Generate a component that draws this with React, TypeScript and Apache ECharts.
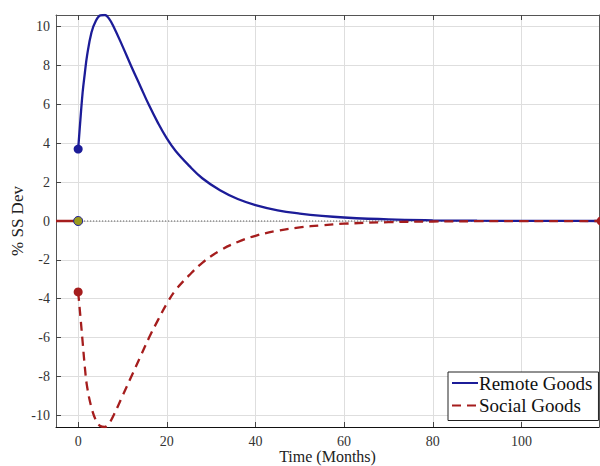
import React, { useEffect, useRef } from "react";
import * as echarts from "echarts";

const months = [0, 0.5, 1, 1.5, 2, 3, 4, 5, 6, 7, 8, 10, 12, 14, 16, 18, 20, 22, 25, 28, 32, 36, 40, 45, 50, 55, 60, 70, 80, 90, 100, 110, 118];
const remoteGoods = [3.7, 5.2, 6.6, 7.6, 8.5, 9.7, 10.3, 10.58, 10.6, 10.4, 10.0, 9.0, 7.95, 6.95, 5.95, 5.05, 4.25, 3.6, 2.85, 2.2, 1.58, 1.13, 0.82, 0.55, 0.38, 0.26, 0.18, 0.08, 0.035, 0.015, 0.006, 0.003, 0.001];
const socialGoods = [-3.65, -4.9, -6.2, -7.5, -8.5, -9.6, -10.25, -10.55, -10.6, -10.4, -10.0, -9.0, -8.0, -7.0, -6.0, -5.1, -4.25, -3.55, -2.8, -2.15, -1.52, -1.08, -0.76, -0.5, -0.33, -0.22, -0.14, -0.06, -0.025, -0.01, -0.004, -0.002, -0.001];
const preShockTime = [-5, 0];
const preShockValue = [0, 0];
const xTicks = [0, 20, 40, 60, 80, 100];
const yTicks = [-10, -8, -6, -4, -2, 0, 2, 4, 6, 8, 10];
const xRange = [-5, 117.5];
const yRange = [-10.6, 10.6];

const BLUE = "#1c1c98";
const RED = "#a51d1d";
const OLIVE = "#9a9a1e";
const FONT = "Liberation Serif";

export default function App() {
  const ref = useRef<HTMLDivElement>(null);
  useEffect(() => {
    if (!ref.current) return;
    const chart = echarts.init(ref.current, null, { renderer: "svg" });
    const pairs = (xs: number[], ys: number[]) => xs.map((x, i) => [x, ys[i]]);
    const tickStyle = { color: "#444", width: 1 };
    chart.setOption({
      animation: false,
      backgroundColor: "#fff",
      grid: { left: 56, right: 1, top: 15, bottom: 39, containLabel: false, outerBoundsMode: "none" },
      legend: {
        data: ["Remote Goods", "Social Goods"],
        orient: "vertical",
        left: 448,
        top: 372,
        padding: [1, 6, 5, 3],
        itemGap: 2.5,
        itemWidth: 26,
        itemHeight: 10,
        itemStyle: { opacity: 0 },
        borderColor: "#222",
        borderWidth: 1,
        borderRadius: 0,
        backgroundColor: "#fff",
        textStyle: { fontFamily: FONT, fontSize: 19, color: "#111", lineHeight: 20, padding: [0, 0, 0, -4] },
      },
      xAxis: [
        {
          type: "value",
          min: xRange[0],
          max: xRange[1],
          name: "Time (Months)",
          nameLocation: "middle",
          nameGap: 21,
          nameMoveOverlap: false,
          nameTextStyle: { fontFamily: FONT, fontSize: 16, color: "#222", lineHeight: 16 },
          axisLine: { show: true, onZero: false, lineStyle: { color: "#111", width: 1 } },
          axisTick: { show: true, inside: true, length: 5, customValues: xTicks, lineStyle: tickStyle },
          axisLabel: { customValues: xTicks, fontFamily: FONT, fontSize: 14, color: "#333", margin: 8, lineHeight: 13 },
          splitLine: { show: true, lineStyle: { color: "#dedede", width: 1 } },
        },
        {
          type: "value",
          position: "top",
          min: xRange[0],
          max: xRange[1],
          axisLine: { show: true, onZero: false, lineStyle: { color: "#555", width: 1 } },
          axisTick: { show: true, inside: true, length: 5, customValues: xTicks, lineStyle: tickStyle },
          axisLabel: { show: false },
          splitLine: { show: false },
        },
      ],
      yAxis: [
        {
          type: "value",
          min: yRange[0],
          max: yRange[1],
          name: "% SS Dev",
          nameLocation: "middle",
          nameGap: 30,
          nameMoveOverlap: false,
          nameTextStyle: { fontFamily: FONT, fontSize: 17, color: "#222" },
          axisLine: { show: true, onZero: false, lineStyle: { color: "#555", width: 1 } },
          axisTick: { show: true, inside: true, length: 5, customValues: yTicks, lineStyle: tickStyle },
          axisLabel: { customValues: yTicks, fontFamily: FONT, fontSize: 14, color: "#333", margin: 6 },
          splitLine: { show: true, lineStyle: { color: "#dedede", width: 1 } },
        },
        {
          type: "value",
          position: "right",
          min: yRange[0],
          max: yRange[1],
          axisLine: { show: true, onZero: false, lineStyle: { color: "#555", width: 1 } },
          axisTick: { show: false },
          axisLabel: { show: false },
          splitLine: { show: false },
        },
      ],
      series: [
        {
          name: "zero",
          type: "line",
          data: pairs([0, xRange[1]], [0, 0]),
          symbol: "none",
          silent: true,
          lineStyle: { color: "#444", width: 1, type: [1, 2] },
          z: 1,
        },
        {
          name: "Remote Goods",
          type: "line",
          data: pairs(months, remoteGoods),
          symbol: "none",
          smooth: 0.4,
          lineStyle: { color: BLUE, width: 2.3 },
          itemStyle: { color: BLUE },
          z: 3,
        },
        {
          name: "Social Goods",
          type: "line",
          data: pairs(months, socialGoods),
          symbol: "none",
          smooth: 0.4,
          lineStyle: { color: RED, width: 2.3, type: [9, 6] },
          itemStyle: { color: RED },
          z: 4,
        },
        {
          name: "pre",
          type: "line",
          data: pairs(preShockTime, preShockValue),
          symbol: "none",
          lineStyle: { color: RED, width: 2.3 },
          z: 4,
        },
        {
          name: "startRemote",
          type: "scatter",
          data: [[months[0], remoteGoods[0]]],
          symbolSize: 9,
          itemStyle: { color: BLUE, opacity: 1 },
          z: 5,
        },
        {
          name: "startSocial",
          type: "scatter",
          data: [[months[0], socialGoods[0]]],
          symbolSize: 9,
          itemStyle: { color: RED, opacity: 1 },
          z: 5,
        },
        {
          name: "steady",
          type: "scatter",
          data: [[0, 0]],
          symbolSize: 9,
          itemStyle: { color: OLIVE, borderColor: BLUE, borderWidth: 1, opacity: 1 },
          z: 6,
        },
        {
          name: "end",
          type: "scatter",
          data: [[months[months.length - 1], 0]],
          symbolSize: 9,
          clip: false,
          itemStyle: { color: RED, opacity: 1 },
          z: 6,
        },
      ],
    });
    return () => chart.dispose();
  }, []);
  return <div ref={ref} style={{ width: 600, height: 466, position: "absolute", left: 0, top: 0 }} />;
}
